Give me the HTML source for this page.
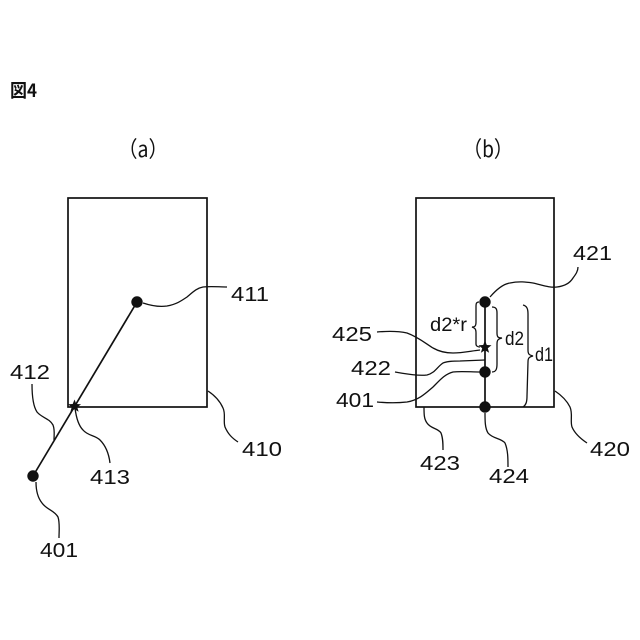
<!DOCTYPE html>
<html>
<head>
<meta charset="utf-8">
<style>
html,body{margin:0;padding:0;background:#fff;width:640px;height:640px;overflow:hidden}
svg{display:block}
text{font-family:"Liberation Sans","Noto Sans CJK JP",sans-serif;fill:#111}
.n{font-size:20px}
.d{font-size:19px}
path,line,rect{fill:none;stroke:#111;stroke-width:1.3}
.b{stroke-width:1.7}
</style>
</head>
<body>
<svg width="640" height="640" viewBox="0 0 640 640" xmlns="http://www.w3.org/2000/svg">
<text x="10" y="97" font-size="18" font-weight="700" textLength="27" lengthAdjust="spacingAndGlyphs" style="font-family:'Noto Sans CJK JP',sans-serif">図4</text>
<text x="118" y="157" font-size="22" textLength="50" lengthAdjust="spacingAndGlyphs" style="font-family:'Noto Sans CJK JP',sans-serif">（a）</text>
<text x="463" y="157" font-size="22" textLength="50" lengthAdjust="spacingAndGlyphs" style="font-family:'Noto Sans CJK JP',sans-serif">（b）</text>

<rect class="b" x="68" y="198" width="139" height="209"/>
<rect class="b" x="416" y="198" width="138" height="209"/>

<!-- (a) -->
<line x1="137" y1="302" x2="33" y2="476" class="b"/>
<circle cx="137" cy="302" r="5.7" fill="#111"/>
<circle cx="33" cy="476" r="5.7" fill="#111"/>
<polygon points="74.5,399.5 76.3,404 81,404.2 77.3,407.2 78.6,411.8 74.5,409.2 70.4,411.8 71.7,407.2 68,404.2 72.7,404" fill="#111"/>
<path d="M143,303 C152,306 160,307 167,306 C177,304 181,301 187,297 C193,292 197,288 203,287 C211,286 219,287 227,287"/>
<path d="M32,384 C32,395 33,406 37,412 C42,418 49,418 53,425 C55,430 54,435 54,440"/>
<path d="M75,408 C76,416 78,425 83,430 C88,436 95,435 100,440 C106,446 109,455 110,463"/>
<path d="M36,482 C36,490 38,498 42,503 C47,510 54,510 58,517 C60,523 59,531 59,538"/>
<path d="M208,391 C214,395 220,401 223,408 C226,414 223,421 225,427 C228,434 232,438 238,442"/>
<text class="n" x="231" y="301" textLength="38" lengthAdjust="spacingAndGlyphs">411</text>
<text class="n" x="10" y="379" textLength="40" lengthAdjust="spacingAndGlyphs">412</text>
<text class="n" x="90" y="484" textLength="40" lengthAdjust="spacingAndGlyphs">413</text>
<text class="n" x="242" y="456" textLength="40" lengthAdjust="spacingAndGlyphs">410</text>
<text class="n" x="40" y="557" textLength="38" lengthAdjust="spacingAndGlyphs">401</text>

<!-- (b) -->
<line x1="485" y1="302" x2="485" y2="407" class="b"/>
<circle cx="485" cy="302" r="5.7" fill="#111"/>
<circle cx="485" cy="372" r="5.7" fill="#111"/>
<circle cx="485" cy="407" r="5.7" fill="#111"/>
<polygon points="485,340.5 486.8,345 491.5,345.2 487.8,348.2 489.1,352.8 485,350.2 480.9,352.8 482.2,348.2 478.5,345.2 483.2,345" fill="#111"/>

<path d="M490,297 C496,290 503,284 510,283 C519,281 526,282 533,283 C542,285 550,288 557,287 C565,286 570,283 573,278 C576,274 578,271 578,267"/>
<path d="M377,332 C388,331 398,331 407,333 C418,337 425,343 433,348 C440,352 446,353 453,353 C462,353 471,351 480,350"/>
<path d="M395,372 C407,374 418,376 427,375 C435,373 437,367 443,363 C448,361 454,361 460,361 L485,360"/>
<path d="M377,402 C388,403 398,403 407,402 C419,400 426,393 433,387 C440,380 445,374 453,372 C461,371 471,372 480,372"/>
<path d="M424,407 C424,414 424,419 427,423 C431,429 438,428 441,433 C443,438 443,444 443,450"/>
<path d="M485,413 C485,421 485,428 488,433 C493,439 501,438 505,443 C508,450 508,459 508,467"/>
<path d="M555,391 C561,395 567,401 570,407 C573,414 570,421 572,427 C575,434 581,439 587,443"/>

<!-- braces -->
<path d="M479,302 C476,302 476,304 476,307 L476,322 C476,326 475,327 472,327 C475,328 476,329 476,333 L476,344 C476,346 478,347 480,347"/>
<path d="M492,307 C496,307 497,309 497,313 L497,333 C497,337 498,338 502,338 C498,339 497,340 497,344 L497,364 C497,369 496,372 492,372"/>
<path d="M523,305 C527,306 528,309 528,314 L528,350 C528,354 529,355 533,356 C529,357 528,358 528,362 L527,396 C527,402 526,405 523,407"/>

<text class="n" x="573" y="260" textLength="39" lengthAdjust="spacingAndGlyphs">421</text>
<text class="n" x="332" y="341" textLength="40" lengthAdjust="spacingAndGlyphs">425</text>
<text class="n" x="351" y="375" textLength="40" lengthAdjust="spacingAndGlyphs">422</text>
<text class="n" x="336" y="407" textLength="38" lengthAdjust="spacingAndGlyphs">401</text>
<text class="n" x="420" y="470" textLength="40" lengthAdjust="spacingAndGlyphs">423</text>
<text class="n" x="489" y="483" textLength="40" lengthAdjust="spacingAndGlyphs">424</text>
<text class="n" x="590" y="456" textLength="40" lengthAdjust="spacingAndGlyphs">420</text>
<text class="d" x="430" y="331" textLength="37" lengthAdjust="spacingAndGlyphs">d2*r</text>
<text class="d" x="505" y="345" textLength="19" lengthAdjust="spacingAndGlyphs">d2</text>
<text class="d" x="535" y="361" textLength="18" lengthAdjust="spacingAndGlyphs">d1</text>
</svg>
</body>
</html>
